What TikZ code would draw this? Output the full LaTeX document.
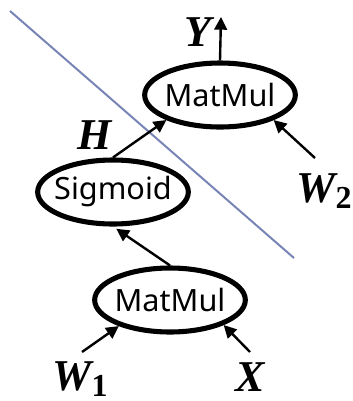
\documentclass[tikz,border=0pt]{standalone}
\usepackage{fontspec}
\setmainfont{Liberation Serif}
\newfontfamily\opfont{Noto Sans}
\usetikzlibrary{shapes.geometric,arrows.meta}
\definecolor{cutline}{RGB}{120,132,182}
\tikzset{
  op/.style={ellipse, draw, line width=3.8pt, minimum width=113pt, minimum height=48pt,
    inner xsep=-14pt, inner ysep=-4pt, font=\opfont\fontsize{23}{27}\selectfont},
  var/.style={inner sep=0pt, font=\bfseries\itshape\fontsize{33}{36}\selectfont},
  flow/.style={line width=1.8pt, -{Triangle[length=9.5pt,width=9.5pt]}},
}
\newcommand{\subidx}[1]{\raisebox{-5pt}{\upshape\fontsize{24}{24}\selectfont #1}}
\begin{document}
\begin{tikzpicture}[x=0.75pt, y=-0.75pt]
    \useasboundingbox (0,0) rectangle (353,401);

    % 分割线
    \draw[cutline, line width=1.5pt] (10,11) -- (294,258);

    % 运算节点
    \node[op] (mm2) at (220,95) {MatMul};
    \node[op] (sig) at (113,192) {Sigmoid};
    \node[op] (mm1) at (170,300) {MatMul};

    % 变量
    \node[var] (y) at (198,32) {Y};
    \node[var] (h) at (95,135) {H};
    \node[var] (w2) at (324,191) {W\subidx{2}};
    \node[var] (w1) at (80,379) {W\subidx{1}};
    \node[var] (x) at (250,377) {X};

    % 箭头端点
    \coordinate (yout) at (221,17);
    \coordinate (w2in) at (315,158);
    \coordinate (w1in) at (82,352);
    \coordinate (xin) at (250,352);

    % 连线
    \draw[flow] (mm2.north) -- (yout);
    \draw[flow] (sig.north) -- (mm2.205);
    \draw[flow] (w2in) -- (mm2.335);
    \draw[flow, shorten >=3pt] (mm1.north) -- (sig.south);
    \draw[flow] (w1in) -- (mm1.207);
    \draw[flow] (xin) -- (mm1.335);
\end{tikzpicture}
\end{document}
